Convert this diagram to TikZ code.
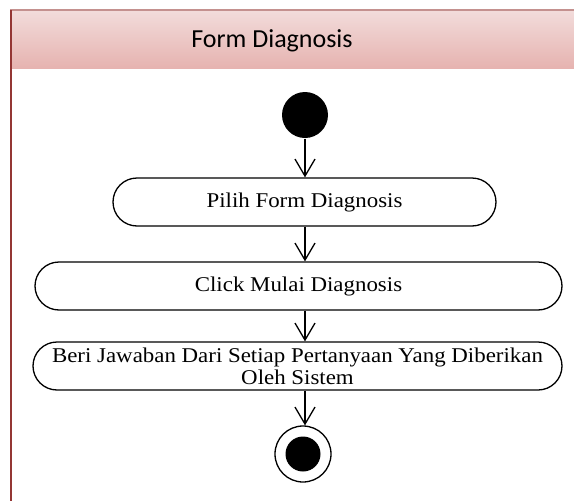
\documentclass[tikz,border=0pt]{standalone}
\usepackage{fontspec}
\setmainfont{Liberation Serif}
\newfontfamily\boxfont[FakeStretch=1.09]{Liberation Serif}
\newfontfamily\titlefont{Carlito}
\usetikzlibrary{arrows.meta,positioning}

\definecolor{laneline}{HTML}{943634}
\definecolor{lanetop}{HTML}{F2DCDB}
\definecolor{lanebottom}{HTML}{E6B3B0}
\definecolor{laneedge}{HTML}{C4918F}

\begin{document}
\begin{tikzpicture}[
        x=1pt, y=-1pt,
        >={Straight Barb[length=17pt,width=20pt]},
        line width=1.3pt,
        % action box (stadium shape)
        action/.style={
            rectangle,
            draw,
            rounded corners=24pt,
            minimum height=48pt,
            align=center,
            inner sep=0pt,
            font=\boxfont\fontsize{21}{22}\selectfont
        },
        % control flow
        flow/.style={
            ->,
            line width=1.3pt
        },
        % lane title
        lane_title/.style={
            font=\titlefont\fontsize{26}{28}\selectfont,
            text=black
        }
    ]
    \useasboundingbox (0,0) rectangle (574,501);

    % --- 1. swimlane ---
    \shade[top color=lanetop, bottom color=lanebottom] (10,10) rectangle (576,68);
    \draw[laneedge, line width=1.5pt] (10,10) -- (576,10);
    \draw[laneline, line width=2pt] (11,10) -- (11,503);
    \node (title) [lane_title] at (272,41) {Form Diagnosis};

    % --- 2. activity nodes (top to bottom) ---
    \node (start) [circle, fill=black, minimum size=46pt, inner sep=0pt] at (305,115) {};

    \node (pilih) [action, minimum width=383pt] at (304.5,202) {Pilih Form Diagnosis};

    \node (mulai) [action, minimum width=527pt] at (298.5,286) {Click Mulai Diagnosis};

    \node (jawab) [action, minimum width=529pt] at (297.5,366)
        {Beri Jawaban Dari Setiap Pertanyaan Yang Diberikan\\Oleh Sistem};

    \node (stop) [circle, draw, minimum size=56pt, inner sep=0pt] at (303,454) {};
    \node (stopdot) [circle, fill=black, minimum size=35pt, inner sep=0pt] at (stop) {};

    % --- 3. control flow ---
    \draw[flow] (start) -- (pilih.north -| start);
    \draw[flow] (pilih.south -| start) -- (mulai.north -| start);
    \draw[flow] (mulai.south -| start) -- (jawab.north -| start);
    \draw[flow] (jawab.south -| start) -- (stop.north -| start);

\end{tikzpicture}
\end{document}
